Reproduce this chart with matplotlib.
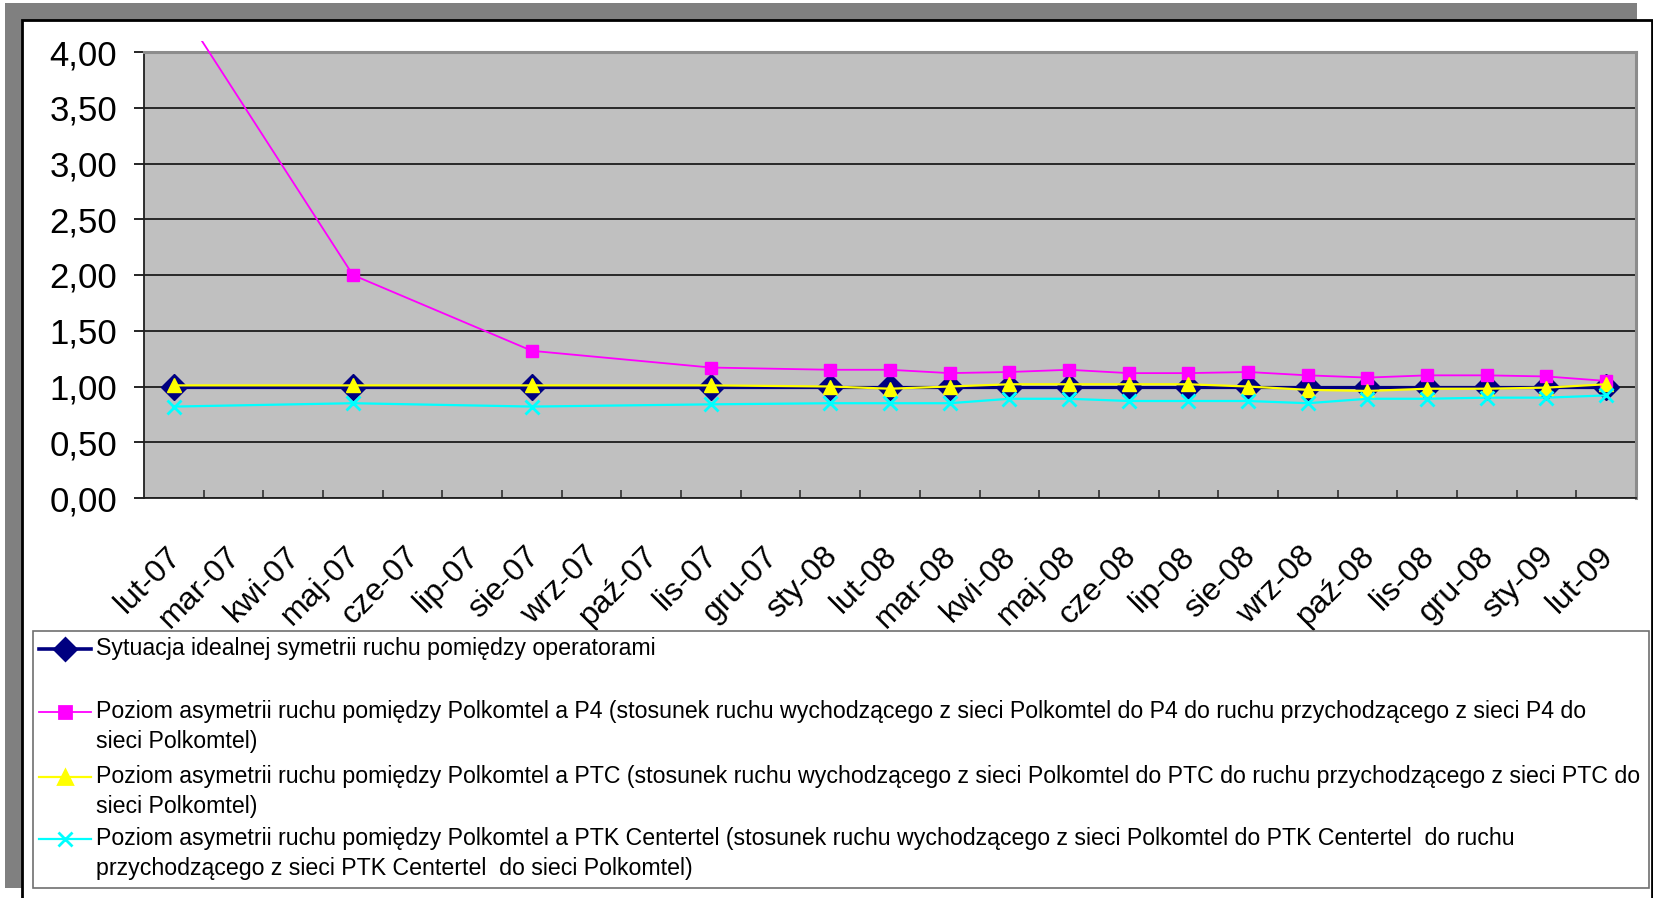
import matplotlib
matplotlib.use("Agg")
import matplotlib.pyplot as plt
from matplotlib.patches import Rectangle
from matplotlib.lines import Line2D
from matplotlib.transforms import Bbox, TransformedBbox, ScaledTranslation
from matplotlib.ticker import FuncFormatter, MultipleLocator, FixedLocator

plt.rcParams["font.family"] = ["Liberation Sans", "DejaVu Sans"]

# Data
MONTHS = ["lut-07", "mar-07", "kwi-07", "maj-07", "cze-07", "lip-07", "sie-07",
          "wrz-07", "paź-07", "lis-07", "gru-07", "sty-08", "lut-08", "mar-08",
          "kwi-08", "maj-08", "cze-08", "lip-08", "sie-08", "wrz-08", "paź-08",
          "lis-08", "gru-08", "sty-09", "lut-09"]

DATA_MONTHS = ["lut-07", "maj-07", "sie-07", "lis-07", "sty-08", "lut-08",
               "mar-08", "kwi-08", "maj-08", "cze-08", "lip-08", "sie-08",
               "wrz-08", "paź-08", "lis-08", "gru-08", "sty-09", "lut-09"]

ideal = [1.00, 1.00, 1.00, 1.00, 1.00, 1.00, 1.00, 1.00, 1.00,
         1.00, 1.00, 1.00, 1.00, 1.00, 1.00, 1.00, 1.00, 1.00]
p4 = [4.49, 2.00, 1.32, 1.17, 1.15, 1.15, 1.12, 1.13, 1.15,
      1.12, 1.12, 1.13, 1.10, 1.08, 1.10, 1.10, 1.09, 1.05]
ptc = [1.01, 1.01, 1.01, 1.01, 1.00, 0.98, 1.00, 1.02, 1.02,
       1.02, 1.02, 1.00, 0.97, 0.96, 0.98, 0.98, 0.99, 1.02]
ptk = [0.82, 0.85, 0.82, 0.84, 0.85, 0.85, 0.85, 0.89, 0.89,
       0.87, 0.87, 0.87, 0.85, 0.89, 0.89, 0.90, 0.90, 0.92]

LEGEND_TEXTS = [
    ["Sytuacja idealnej symetrii ruchu pomiędzy operatorami"],
    ["Poziom asymetrii ruchu pomiędzy Polkomtel a P4 (stosunek ruchu wychodzącego z sieci Polkomtel do P4 do ruchu przychodzącego z sieci P4 do",
     "sieci Polkomtel)"],
    ["Poziom asymetrii ruchu pomiędzy Polkomtel a PTC (stosunek ruchu wychodzącego z sieci Polkomtel do PTC do ruchu przychodzącego z sieci PTC do",
     "sieci Polkomtel)"],
    ["Poziom asymetrii ruchu pomiędzy Polkomtel a PTK Centertel (stosunek ruchu wychodzącego z sieci Polkomtel do PTK Centertel  do ruchu",
     "przychodzącego z sieci PTK Centertel  do sieci Polkomtel)"],
]

# Figure laid out in pixels (dpi 100, 1 px = 0.72 pt)
W, H = 1653, 898
fig = plt.figure(figsize=(W / 100, H / 100), dpi=100)
fig.patch.set_facecolor("white")


def fx(x):
    return x / W


def fy(y):
    return 1 - y / H


# gray shadow and white chart area
fig.add_artist(Rectangle((fx(5), fy(888)), fx(1632), 885 / H,
                         transform=fig.transFigure, facecolor="#808080",
                         edgecolor="none", zorder=0))
fig.add_artist(Rectangle((fx(22), fy(920)), fx(1630), 900 / H,
                         transform=fig.transFigure, facecolor="white",
                         edgecolor="black", linewidth=2, zorder=0.1))

ax = fig.add_axes([fx(144), fy(498), fx(1636 - 144), (498 - 52) / H])
ax.set_facecolor("#C0C0C0")
ax.set_zorder(1)

x = [MONTHS.index(m) for m in DATA_MONTHS]

ax.plot(x, ideal, color="#000080", lw=2.3, marker="D", ms=13,
        mfc="#000080", mec="#000080", zorder=3)
l_p4, = ax.plot(x, p4, color="#FF00FF", lw=1.3, marker="s", ms=8,
                mfc="#FF00FF", mec="#FF00FF", zorder=4)
ax.plot(x, ptc, color="#FFFF00", lw=1.6, marker="^", ms=10,
        mfc="#FFFF00", mec="#FFFF00", zorder=5)
ax.plot(x, ptk, color="#00FFFF", lw=1.6, marker="x", ms=10, mew=2, zorder=6)

# Excel lets the line run a bit above the plot area before clipping
l_p4.set_clip_path(None)
l_p4.set_clip_box(TransformedBbox(Bbox([[0, 0], [1, 1.025]]), ax.transAxes))

ax.set_xlim(-0.5, len(MONTHS) - 0.5)
ax.set_ylim(0, 4)
ax.yaxis.set_major_locator(MultipleLocator(0.5))
ax.yaxis.set_major_formatter(FuncFormatter(lambda v, p: f"{v:.2f}".replace(".", ",")))
ax.set_axisbelow(True)
ax.yaxis.grid(True, color="black", lw=1.1)

ax.set_xticks(range(len(MONTHS)))
ax.set_xticklabels(MONTHS, rotation=45, ha="right", va="top",
                   rotation_mode="anchor", fontsize=23)
ax.xaxis.set_minor_locator(FixedLocator([i + 0.5 for i in range(len(MONTHS))]))
ax.tick_params(axis="x", which="major", length=0, pad=31)
ax.tick_params(axis="x", which="minor", direction="in", length=6, width=1.2,
               color="#303030")
ax.tick_params(axis="y", direction="out", length=7.2, width=1.2, pad=12,
               labelsize=25)
shift = ScaledTranslation(-8 / 100, 0, fig.dpi_scale_trans)
for lab in ax.get_xticklabels():
    lab.set_transform(lab.get_transform() + shift)

for s in ["left", "bottom"]:
    ax.spines[s].set_color("#202020")
    ax.spines[s].set_linewidth(1.3)
for s in ["top", "right"]:
    ax.spines[s].set_color("#8C8C8C")
    ax.spines[s].set_linewidth(2.2)

# Legend drawn by hand to keep Excel layout
fig.add_artist(Rectangle((fx(33), fy(888)), fx(1649 - 33), (888 - 631) / H,
                         transform=fig.transFigure, facecolor="white",
                         edgecolor="#707070", linewidth=1.2, zorder=2))
handles = [("#000080", 2.6, "D", 11), ("#FF00FF", 1.3, "s", 8),
           ("#FFFF00", 1.6, "^", 10), ("#00FFFF", 1.6, "x", 10)]
handle_y = [649, 712, 777, 839]
baselines = [[655], [718, 748], [783, 813], [845, 875]]
for (col, lw, mk, ms), hy, lines, bases in zip(handles, handle_y, LEGEND_TEXTS, baselines):
    fig.add_artist(Line2D([fx(39), fx(65), fx(91)], [fy(hy)] * 3,
                          transform=fig.transFigure, color=col, lw=lw,
                          marker=mk, ms=ms, markevery=[1], mfc=col, mec=col,
                          mew=2, zorder=3))
    for txt, b in zip(lines, bases):
        fig.text(fx(96), fy(b), txt, fontsize=16.7, va="baseline", ha="left",
                 zorder=3)

fig.savefig("out.png", dpi=100)
